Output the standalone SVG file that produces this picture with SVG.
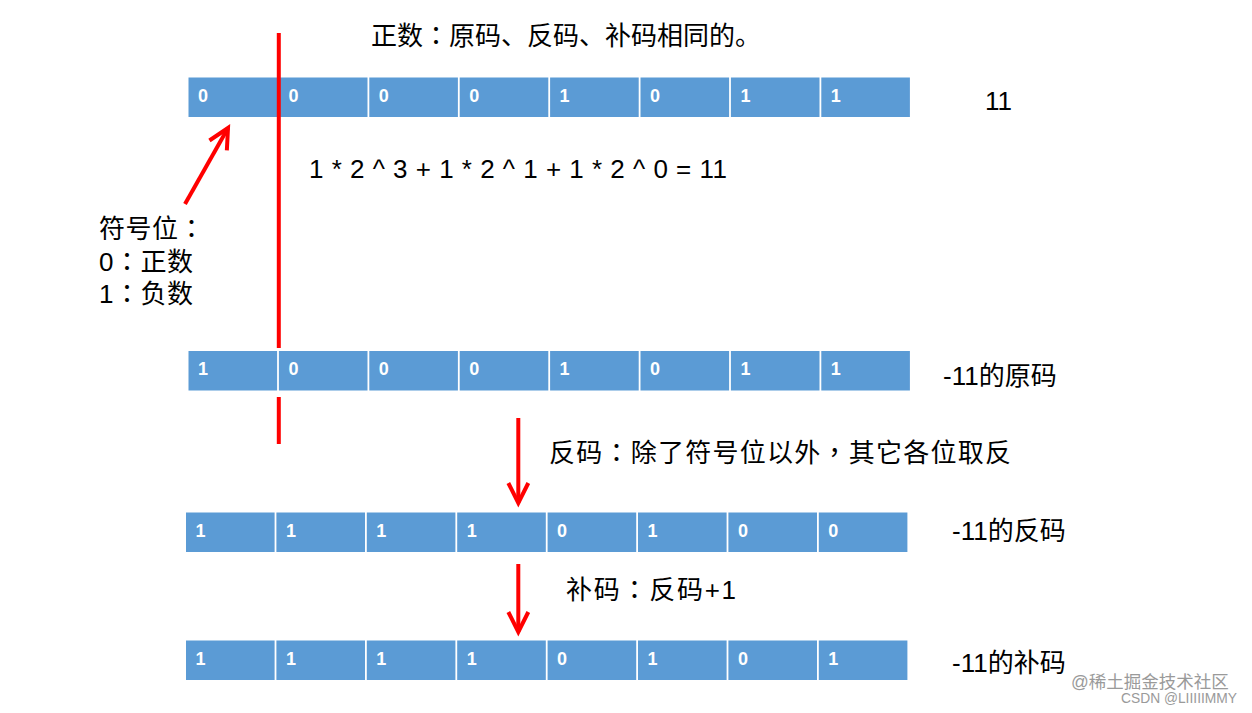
<svg xmlns="http://www.w3.org/2000/svg" width="1252" height="713" viewBox="0 0 1252 713">
<style>
.cell{fill:#5B9BD5}
.bit{fill:#FFFFFF;font-family:"Liberation Sans",Arial,sans-serif;font-weight:bold;font-size:18px}
.lbl{fill:#000000;font-family:"Liberation Sans","Noto Sans CJK SC",sans-serif;font-size:26px}
.p{font-family:"Noto Sans CJK TC",sans-serif}
.red{stroke:#FF0000;stroke-width:4;fill:none}
.wm{fill:#9a9a9a;font-family:"Liberation Sans","Noto Sans CJK SC",sans-serif;stroke:#ffffff;stroke-width:0.6;paint-order:stroke}
</style>
<defs>
<marker id="head" markerUnits="userSpaceOnUse" markerWidth="40" markerHeight="40" refX="0" refY="0" orient="auto" overflow="visible" viewBox="-30 -20 40 40">
<path d="M-20,-10 L0,0 L-20,10" stroke="#FF0000" stroke-width="4" fill="none"/>
</marker>
</defs>
<rect width="1252" height="713" fill="#FFFFFF"/>

<g id="row-11">
<rect class="cell" x="188.5" y="77.5" width="88.6" height="39.5"/>
<rect class="cell" x="278.9" y="77.5" width="88.6" height="39.5"/>
<rect class="cell" x="369.3" y="77.5" width="88.6" height="39.5"/>
<rect class="cell" x="459.7" y="77.5" width="88.6" height="39.5"/>
<rect class="cell" x="550.1" y="77.5" width="88.6" height="39.5"/>
<rect class="cell" x="640.5" y="77.5" width="88.6" height="39.5"/>
<rect class="cell" x="730.9" y="77.5" width="88.6" height="39.5"/>
<rect class="cell" x="821.3" y="77.5" width="88.6" height="39.5"/>
<text class="bit" y="101.5"><tspan x="198">0</tspan><tspan x="288.4">0</tspan><tspan x="378.8">0</tspan><tspan x="469.2">0</tspan><tspan x="559.6">1</tspan><tspan x="650">0</tspan><tspan x="740.4">1</tspan><tspan x="830.8">1</tspan></text>
</g>

<g id="row-yuanma">
<rect class="cell" x="188.5" y="351" width="88.6" height="39.5"/>
<rect class="cell" x="278.9" y="351" width="88.6" height="39.5"/>
<rect class="cell" x="369.3" y="351" width="88.6" height="39.5"/>
<rect class="cell" x="459.7" y="351" width="88.6" height="39.5"/>
<rect class="cell" x="550.1" y="351" width="88.6" height="39.5"/>
<rect class="cell" x="640.5" y="351" width="88.6" height="39.5"/>
<rect class="cell" x="730.9" y="351" width="88.6" height="39.5"/>
<rect class="cell" x="821.3" y="351" width="88.6" height="39.5"/>
<text class="bit" y="375"><tspan x="198">1</tspan><tspan x="288.4">0</tspan><tspan x="378.8">0</tspan><tspan x="469.2">0</tspan><tspan x="559.6">1</tspan><tspan x="650">0</tspan><tspan x="740.4">1</tspan><tspan x="830.8">1</tspan></text>
</g>

<g id="row-fanma">
<rect class="cell" x="186" y="512.5" width="88.6" height="39.5"/>
<rect class="cell" x="276.4" y="512.5" width="88.6" height="39.5"/>
<rect class="cell" x="366.8" y="512.5" width="88.6" height="39.5"/>
<rect class="cell" x="457.2" y="512.5" width="88.6" height="39.5"/>
<rect class="cell" x="547.6" y="512.5" width="88.6" height="39.5"/>
<rect class="cell" x="638" y="512.5" width="88.6" height="39.5"/>
<rect class="cell" x="728.4" y="512.5" width="88.6" height="39.5"/>
<rect class="cell" x="818.8" y="512.5" width="88.6" height="39.5"/>
<text class="bit" y="536.5"><tspan x="195.5">1</tspan><tspan x="285.9">1</tspan><tspan x="376.3">1</tspan><tspan x="466.7">1</tspan><tspan x="557.1">0</tspan><tspan x="647.5">1</tspan><tspan x="737.9">0</tspan><tspan x="828.3">0</tspan></text>
</g>

<g id="row-buma">
<rect class="cell" x="186" y="640.5" width="88.6" height="39.5"/>
<rect class="cell" x="276.4" y="640.5" width="88.6" height="39.5"/>
<rect class="cell" x="366.8" y="640.5" width="88.6" height="39.5"/>
<rect class="cell" x="457.2" y="640.5" width="88.6" height="39.5"/>
<rect class="cell" x="547.6" y="640.5" width="88.6" height="39.5"/>
<rect class="cell" x="638" y="640.5" width="88.6" height="39.5"/>
<rect class="cell" x="728.4" y="640.5" width="88.6" height="39.5"/>
<rect class="cell" x="818.8" y="640.5" width="88.6" height="39.5"/>
<text class="bit" y="664.5"><tspan x="195.5">1</tspan><tspan x="285.9">1</tspan><tspan x="376.3">1</tspan><tspan x="466.7">1</tspan><tspan x="557.1">0</tspan><tspan x="647.5">1</tspan><tspan x="737.9">0</tspan><tspan x="828.3">1</tspan></text>
</g>

<g id="connectors">
<line class="red" x1="278.8" y1="33" x2="278.8" y2="348"/>
<line class="red" x1="278.8" y1="397" x2="278.8" y2="444"/>
<line class="red" x1="185" y1="204" x2="228" y2="128" marker-end="url(#head)"/>
<line class="red" x1="518.3" y1="418" x2="518.3" y2="503" marker-end="url(#head)"/>
<line class="red" x1="518.3" y1="564" x2="518.3" y2="632" marker-end="url(#head)"/>
</g>

<g id="labels">
<text class="lbl" x="371" y="45">正数<tspan class="p">：</tspan>原码、反码、补码相同的。</text>
<text class="lbl" x="985" y="110">11</text>
<text class="lbl" x="309" y="178" font-size="27" textLength="418" lengthAdjust="spacing">1 * 2 ^ 3 + 1 * 2 ^ 1 + 1 * 2 ^ 0 = 11</text>
<text class="lbl" x="99" y="238" letter-spacing="0.5"><tspan x="99">符号位<tspan class="p">：</tspan></tspan><tspan x="99" dy="33">0<tspan class="p">：</tspan>正数</tspan><tspan x="99" dy="32">1<tspan class="p">：</tspan>负数</tspan></text>
<text class="lbl" x="943" y="385">-11的原码</text>
<text class="lbl" x="549" y="462" textLength="462" lengthAdjust="spacing">反码<tspan class="p">：</tspan>除了符号位以外<tspan class="p">，</tspan>其它各位取反</text>
<text class="lbl" x="952" y="540">-11的反码</text>
<text class="lbl" x="566" y="599" font-size="27" textLength="170" lengthAdjust="spacing">补码<tspan class="p">：</tspan>反码+1</text>
<text class="lbl" x="952" y="672">-11的补码</text>
</g>

<g id="watermark">
<text class="wm" x="1071" y="688" font-size="17.5">@稀土掘金技术社区</text>
<text class="wm" x="1121" y="703" font-size="14.5" textLength="116" lengthAdjust="spacingAndGlyphs">CSDN @LIIIIIMMY</text>
</g>
</svg>
